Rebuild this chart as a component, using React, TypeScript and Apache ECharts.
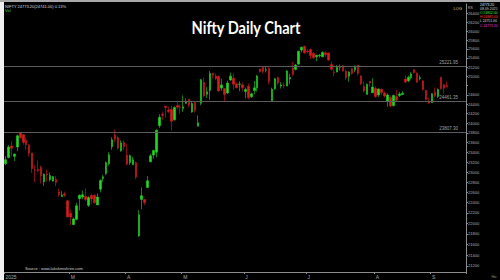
import React, { useEffect, useRef } from "react";
import * as echarts from "echarts";

// Trading dates (2025), MM-DD
const dates = [
  "01-30", "01-31",
  "02-01", "02-03", "02-04", "02-05", "02-06", "02-07", "02-10", "02-11", "02-12", "02-13", "02-14", "02-17", "02-18", "02-19", "02-20", "02-21", "02-24", "02-25", "02-27", "02-28",
  "03-03", "03-04", "03-05", "03-06", "03-07", "03-10", "03-11", "03-12", "03-13", "03-17", "03-18", "03-19", "03-20", "03-21", "03-24", "03-25", "03-26", "03-27", "03-28",
  "04-01", "04-02", "04-03", "04-04", "04-07", "04-08", "04-09", "04-11", "04-15", "04-16", "04-17", "04-21", "04-22", "04-23", "04-24", "04-25", "04-28", "04-29", "04-30",
  "05-02", "05-05", "05-06", "05-07", "05-08", "05-09", "05-12", "05-13", "05-14", "05-15", "05-16", "05-19", "05-20", "05-21", "05-22", "05-23", "05-26", "05-27", "05-28", "05-29", "05-30",
  "06-02", "06-03", "06-04", "06-05", "06-06", "06-09", "06-10", "06-11", "06-12", "06-13", "06-16", "06-17", "06-18", "06-19", "06-20", "06-23", "06-24", "06-25", "06-26", "06-27", "06-30",
  "07-01", "07-02", "07-03", "07-04", "07-07", "07-08", "07-09", "07-10", "07-11", "07-14", "07-15", "07-16", "07-17", "07-18", "07-21", "07-22", "07-23", "07-24", "07-25", "07-28", "07-29", "07-30", "07-31",
  "08-01", "08-04", "08-05", "08-06", "08-07", "08-08", "08-11", "08-12", "08-13", "08-14", "08-18", "08-19", "08-20", "08-21", "08-22", "08-25", "08-26", "08-28", "08-29",
  "09-01", "09-02", "09-03", "09-04", "09-05", "09-08",
];

const opens = [
  23169, 23296, 23528, 23319, 23509, 23801, 23761, 23649, 23543, 23384, 23050, 23055, 23097, 22809, 22963, 22847, 22822, 22857, 22609, 22516, 22568, 22433,
  22194, 21975, 22074, 22476, 22508, 22522, 22345, 22537, 22541, 22354, 22662, 22874, 22973, 23169, 23515, 23751, 23701, 23433, 23600,
  23342, 23192, 23150, 23190, 21758, 22460, 22460, 22695, 23207, 23344, 23401, 23949, 24185, 24357, 24277, 24289, 24070, 24370, 24342,
  24311, 24419, 24500, 24233, 24431, 23935, 24420, 24864, 24613, 24694, 25064, 25005, 24996, 24744, 24733, 24639, 24919, 24956, 24832, 24825, 24812,
  24669, 24786, 24560, 24691, 24749, 25160, 25197, 25134, 25164, 24473, 24732, 24977, 24788, 24803, 24787, 24939, 25179, 25150, 25268, 25576, 25661,
  25551, 25588, 25505, 25428, 25450, 25427, 25514, 25511, 25255, 25092, 25090, 25196, 25230, 25108, 24999, 25166, 25139, 25244, 25011, 24782, 24609, 24891, 24643,
  24735, 24596, 24721, 24641, 24464, 24544, 24371, 24563, 24586, 24607, 24939, 24903, 24966, 25142, 25065, 24949, 24899, 24695, 24466,
  24433, 24653, 24563, 24980, 24818, 24802,
];

const highs = [
  23322, 23546, 23632, 23381, 23762, 23807, 23773, 23695, 23569, 23391, 23144, 23235, 23133, 22974, 23050, 22993, 22923, 22921, 22668, 22625, 22613, 22450,
  22261, 22105, 22394, 22556, 22634, 22677, 22522, 22577, 22558, 22577, 22857, 22940, 23216, 23402, 23709, 23869, 23736, 23646, 23649,
  23565, 23350, 23306, 23214, 22254, 22697, 22468, 22923, 23368, 23452, 23872, 24189, 24242, 24359, 24347, 24365, 24355, 24457, 24396,
  24589, 24526, 24510, 24449, 24447, 24164, 24944, 24973, 24767, 25116, 25070, 25062, 25011, 24946, 24737, 24909, 25079, 25062, 24865, 24892, 24864,
  24754, 24845, 24644, 24899, 25029, 25160, 25199, 25222, 25197, 24754, 24967, 24983, 24871, 24863, 25136, 25057, 25317, 25266, 25560, 25654, 25669,
  25593, 25608, 25533, 25470, 25489, 25548, 25548, 25525, 25323, 25151, 25245, 25255, 25238, 25144, 25111, 25182, 25233, 25246, 25011, 24889, 24847, 24903, 24956,
  24784, 24736, 24734, 24671, 24634, 24585, 24603, 24703, 24664, 24673, 25022, 25013, 25089, 25154, 25084, 25022, 24919, 24702, 24541,
  24636, 24756, 24737, 24980, 24832, 24885,
];

const lows = [
  23139, 23277, 23318, 23222, 23423, 23680, 23556, 23443, 23316, 22986, 22798, 22993, 22774, 22725, 22814, 22814, 22812, 22720, 22518, 22513, 22508, 22105,
  21965, 21964, 22074, 22245, 22464, 22429, 22314, 22379, 22377, 22354, 22599, 22807, 22939, 23132, 23451, 23601, 23451, 23412, 23451,
  23136, 23145, 23145, 22857, 21743, 22270, 22353, 22695, 23207, 23273, 23299, 23903, 24073, 24119, 24216, 23847, 24054, 24290, 24198,
  24238, 24400, 24331, 24221, 24220, 23935, 24378, 24547, 24535, 24494, 24953, 24916, 24669, 24685, 24462, 24614, 24900, 24704, 24737, 24677, 24669,
  24526, 24502, 24530, 24613, 24671, 25077, 25055, 25082, 24825, 24473, 24703, 24813, 24733, 24733, 24784, 24825, 24999, 25125, 25247, 25523, 25490,
  25501, 25378, 25384, 25331, 25407, 25424, 25424, 25340, 25129, 25001, 25089, 25121, 25100, 24918, 24882, 25035, 25085, 25018, 24806, 24646, 24599, 24771, 24636,
  24535, 24554, 24590, 24539, 24344, 24337, 24347, 24465, 24553, 24596, 24852, 24870, 24929, 25054, 24859, 24912, 24689, 24481, 24405,
  24432, 24554, 24533, 24708, 24622, 24751,
];

const closes = [
  23250, 23508, 23482, 23361, 23739, 23696, 23603, 23560, 23381, 23071, 23045, 23031, 22929, 22959, 22945, 22932, 22913, 22795, 22553, 22547, 22545, 22124,
  22119, 22082, 22337, 22544, 22552, 22460, 22497, 22470, 22397, 22508, 22834, 22907, 23190, 23350, 23658, 23668, 23486, 23591, 23519,
  23165, 23332, 23250, 22904, 22161, 22535, 22399, 22828, 23328, 23437, 23851, 24125, 24167, 24328, 24246, 24039, 24328, 24335, 24334,
  24346, 24461, 24379, 24414, 24273, 24008, 24924, 24578, 24666, 25062, 25019, 24945, 24683, 24813, 24609, 24853, 25001, 24826, 24752, 24833, 24750,
  24716, 24543, 24620, 24751, 25003, 25103, 25104, 25141, 24888, 24718, 24946, 24853, 24812, 24793, 25112, 24972, 25044, 25244, 25549, 25637, 25517,
  25541, 25453, 25405, 25461, 25461, 25523, 25476, 25355, 25150, 25082, 25196, 25212, 25112, 24968, 25091, 25061, 25220, 25062, 24837, 24681, 24821, 24855, 24768,
  24565, 24723, 24650, 24574, 24596, 24363, 24585, 24487, 24619, 24631, 24877, 24980, 25051, 25083, 24870, 24967, 24712, 24500, 24427,
  24625, 24579, 24715, 24734, 24741, 24773,
];

const levels = [25221.95, 24461.35, 23807.3];
const yTicks = [
  21200, 21400, 21600, 21800, 22000, 22200, 22400, 22600, 22800, 23000, 23200, 23400, 23600,
  23800, 24000, 24200, 24400, 24600, 24800, 25000, 25200, 25400, 25600, 25800, 26000, 26200, 26400,
];
const monthLetters = ["J", "F", "M", "A", "M", "J", "J", "A", "S", "O", "N", "D"];
const yearLabel = "2025";
const titleText = "Nifty Daily Chart";
const headerText = "NIFTY 24773.20(24741.00) 0.13%";
const volText = "Vol";
const sourceText = "Source : www.lakshmishree.com";
const infoLines = ["24773.20", "08-09-2025", "O 24802.00", "H 24885.00", "L 24751.00", "C 24773.20"];
const infoColors = ["#e8e8e8", "#cfcfcf", "#3ee03e", "#ff3a3a", "#d8d8d8", "#e040e0"];

const Y_MIN = 21087;
const Y_MAX = 26621;
const PAD_SLOTS = 6;
const UP = "#22d822";
const DOWN = "#d81c1c";
const AXIS = "#8c8c8c";
const SMALL_FONT = "Liberation Sans";

export default function App() {
  const ref = useRef<HTMLDivElement>(null);

  useEffect(() => {
    document.body.style.margin = "0";
    const chart = echarts.init(ref.current!, null, { renderer: "svg" });
    const n = dates.length;
    const cats = dates.concat(Array(PAD_SLOTS).fill(""));
    const candles = dates.map((_, i) => [opens[i], closes[i], lows[i], highs[i]]);

    const labelIdx = new Map<number, string>();
    labelIdx.set(0, yearLabel);
    let last = 0;
    for (let i = 1; i < n; i++) {
      const m = dates[i].slice(0, 2);
      if (m !== dates[i - 1].slice(0, 2) && i - last > 10) {
        labelIdx.set(i, monthLetters[parseInt(m, 10) - 1]);
        last = i;
      }
    }
    const lastClose = closes[n - 1];
    // the price box covers the tick label next to the last close
    const labelTicks = yTicks.filter((t) => Math.abs(t - lastClose) > 60);

    const graphics: any[] = [
      { type: "rect", shape: { x: 0, y: 0, width: 4, height: 280 }, style: { fill: "#f0f0f0" }, z: 100 },
      { type: "rect", shape: { x: 0, y: 0, width: 500, height: 2 }, style: { fill: "#a8a8a8" }, z: 100 },
      {
        type: "text", x: 246, y: 27, z: 100, scaleX: 0.86,
        style: { text: titleText, fill: "#ffffff", fontSize: 17, fontWeight: "bold", fontFamily: "Lato, 'Liberation Sans', sans-serif", align: "center", verticalAlign: "middle" },
      },
      {
        type: "text", x: 5, y: 6, z: 100,
        style: { text: headerText, fill: "#dcdcdc", fontSize: 4, fontFamily: SMALL_FONT, align: "left", verticalAlign: "middle" },
      },
      {
        type: "text", x: 5, y: 10.5, z: 100,
        style: { text: volText, fill: "#40d040", fontSize: 4, fontFamily: SMALL_FONT, align: "left", verticalAlign: "middle" },
      },
      {
        type: "text", x: 462, y: 8, z: 100,
        style: { text: "LOG", fill: "#d8d890", fontSize: 4, fontFamily: SMALL_FONT, align: "right", verticalAlign: "middle" },
      },
      {
        type: "text", x: 468, y: 8, z: 100,
        style: { text: "RS", fill: "#bdbdbd", fontSize: 3.5, fontFamily: SMALL_FONT, align: "left", verticalAlign: "middle" },
      },
      {
        type: "text", x: 25, y: 268.5, z: 100,
        style: { text: sourceText, fill: "#cfcfcf", fontSize: 4, fontFamily: SMALL_FONT, align: "left", verticalAlign: "middle" },
      },
      {
        type: "text", x: 494, y: 276, z: 100,
        style: { text: "Ho", fill: "#7a9a7a", fontSize: 4, fontFamily: SMALL_FONT, align: "center", verticalAlign: "middle" },
      },
    ];
    infoLines.forEach((t, i) => {
      graphics.push({
        type: "text", x: 480, y: 5 + i * 4.1, z: 100,
        style: { text: t, fill: infoColors[i], fontSize: 3.4, fontFamily: SMALL_FONT, align: "left", verticalAlign: "middle" },
      });
    });

    chart.setOption({
      animation: false,
      backgroundColor: "#000000",
      grid: { left: 4, right: 34, top: 4, bottom: 8, containLabel: false },
      xAxis: {
        type: "category",
        data: cats,
        boundaryGap: true,
        axisLine: { show: true, lineStyle: { color: AXIS, width: 1 } },
        axisTick: { show: true, length: 2, interval: (i: number) => labelIdx.has(i), lineStyle: { color: AXIS } },
        axisLabel: {
          interval: (i: number) => labelIdx.has(i),
          formatter: (_v: string, i: number) => labelIdx.get(i) ?? "",
          color: "#a8a8a8",
          fontSize: 5,
          fontFamily: SMALL_FONT,
          margin: 2,
          align: "left",
        },
        splitLine: { show: false },
      },
      yAxis: {
        type: "log",
        logBase: 10,
        min: Y_MIN,
        max: Y_MAX,
        position: "right",
        axisLine: { show: true, lineStyle: { color: AXIS, width: 1 } },
        axisTick: { show: true, length: 2, customValues: yTicks, lineStyle: { color: AXIS } },
        axisLabel: {
          customValues: labelTicks,
          color: "#b0b0b0",
          fontSize: 4,
          fontFamily: SMALL_FONT,
          margin: 2,
          formatter: (v: number) => String(Math.round(v)),
        },
        splitLine: { show: false },
      },
      series: [
        {
          type: "candlestick",
          data: candles,
          barWidth: 2,
          itemStyle: { color: UP, color0: DOWN, borderColor: UP, borderColor0: DOWN, borderWidth: 0.6 },
          markLine: {
            silent: true,
            symbol: ["none", "none"],
            animation: false,
            data: [
              ...levels.map((v) => ({
                yAxis: v,
                lineStyle: { color: "#5c5c5c", width: 1, type: "solid" },
                label: {
                  show: true,
                  position: "insideEndTop",
                  formatter: v.toFixed(2),
                  color: "#a0a0a0",
                  fontSize: 4.5,
                  fontFamily: SMALL_FONT,
                  distance: [8, 1],
                },
              })),
              {
                yAxis: lastClose,
                lineStyle: { opacity: 0 },
                label: {
                  show: true,
                  position: "end",
                  distance: 1,
                  formatter: lastClose.toFixed(2),
                  color: "#000000",
                  backgroundColor: "#f4f4f4",
                  padding: [1, 2],
                  fontSize: 4.5,
                  fontFamily: SMALL_FONT,
                },
              },
            ],
          },
        },
      ],
      graphic: graphics,
    });

    return () => chart.dispose();
  }, []);

  return <div ref={ref} style={{ width: 500, height: 280, background: "#000" }} />;
}
